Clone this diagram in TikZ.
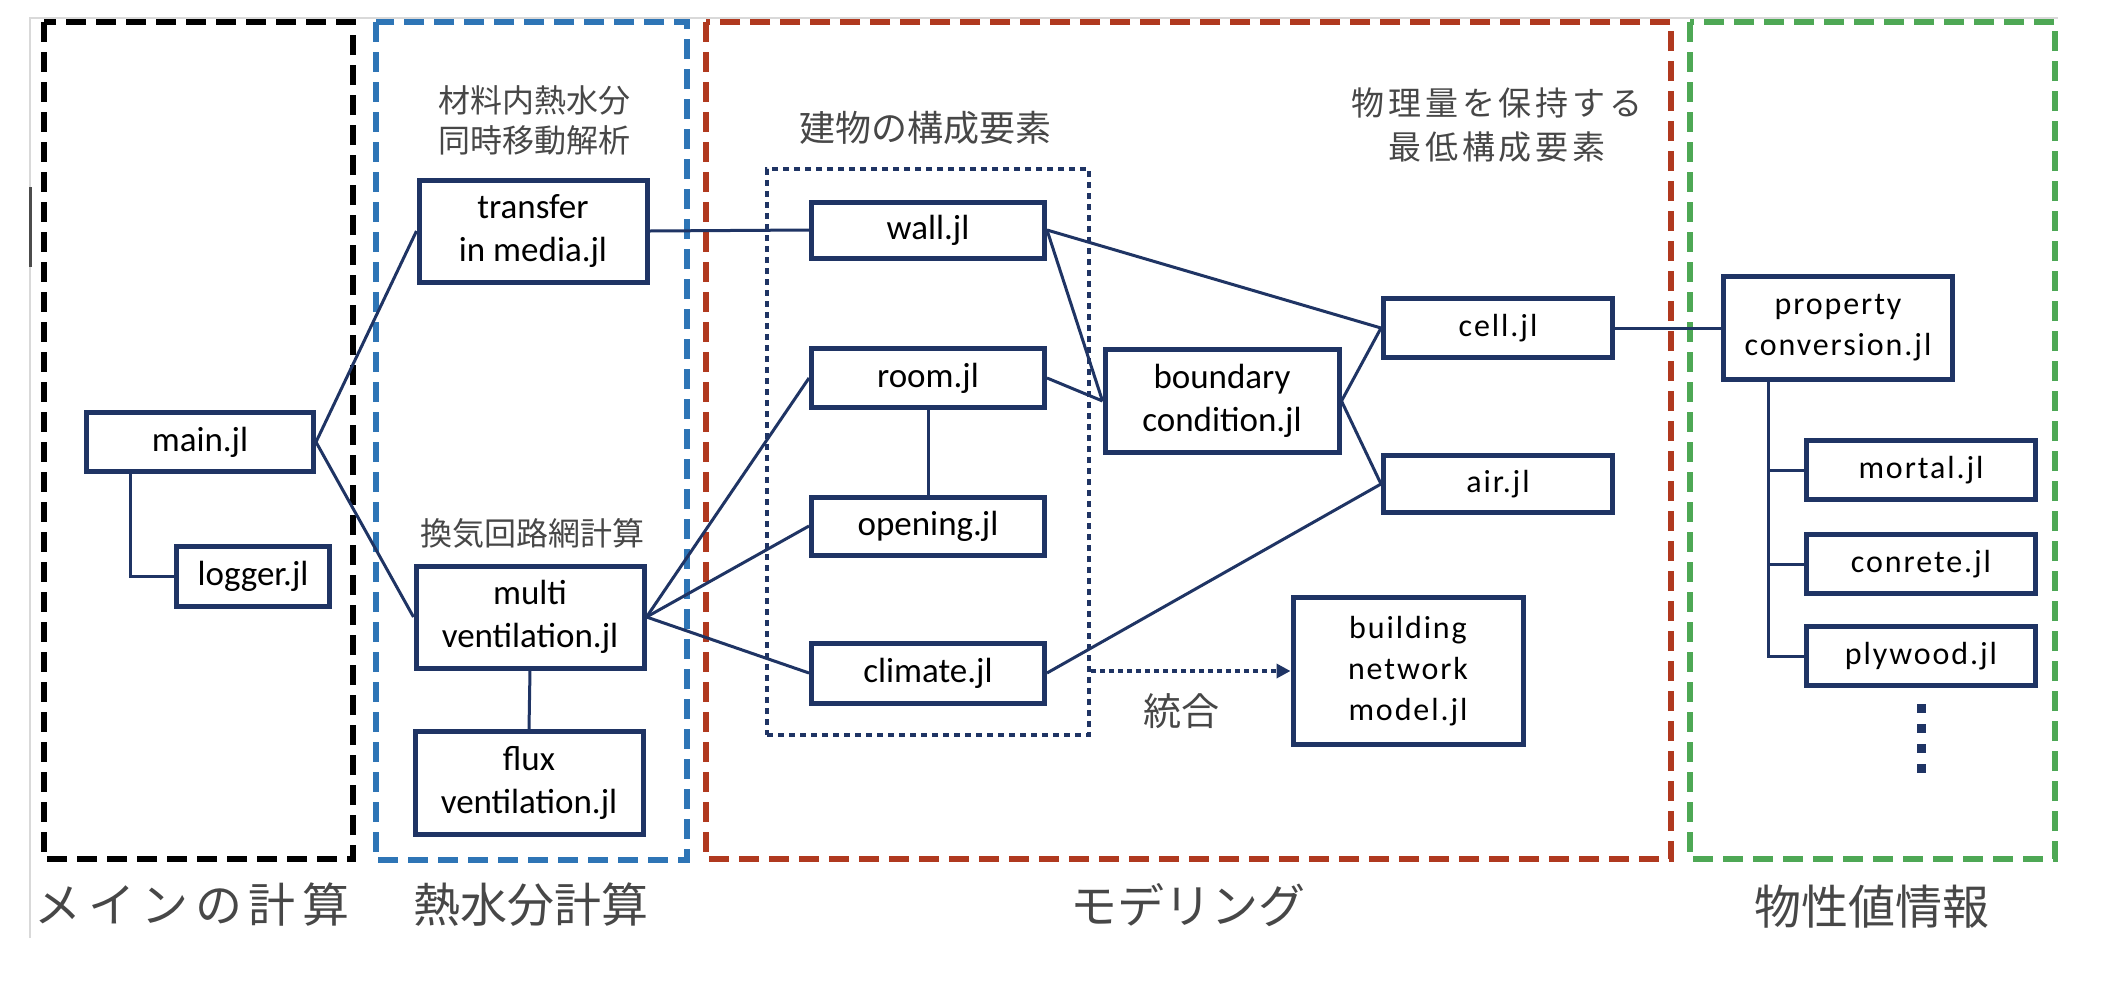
\documentclass[tikz,border=0pt]{standalone}
\usepackage{fontspec}
\setmainfont{Carlito}
\newfontfamily\jpfont{Noto Sans CJK JP}
\newfontfamily\wjpfont{Noto Sans CJK JP}[LetterSpace=12]
\newfontfamily\mjpfont{Noto Sans CJK JP}[LetterSpace=14]
\newfontfamily\boxfont{Carlito}
\newfontfamily\wboxfont{Carlito}[LetterSpace=6]
\usetikzlibrary{arrows.meta}
\definecolor{navy}{HTML}{1F3464}
\definecolor{gblue}{HTML}{2E75B6}
\definecolor{gred}{HTML}{B0391F}
\definecolor{ggreen}{HTML}{4EA855}
\definecolor{jtext}{HTML}{474747}
\begin{document}
\begin{tikzpicture}[x=1pt,y=-1pt,
  box/.style={draw=navy,line width=5pt,fill=white,inner sep=0pt,align=center,text=black,
    font=\boxfont\fontsize{35}{43}\selectfont},
  wbox/.style={box,font=\wboxfont\fontsize{32}{41}\selectfont},
  conn/.style={draw=navy,line width=3pt},
  grp/.style={line width=6.5pt,dash pattern=on 20pt off 10pt},
  jlabel/.style={text=jtext,align=center,inner sep=0pt,font=\jpfont\fontsize{32}{40}\selectfont},
  wjlabel/.style={jlabel,font=\wjpfont\fontsize{33}{44}\selectfont},
  blabel/.style={text=jtext,inner sep=0pt,font=\jpfont\fontsize{47}{50}\selectfont},
]
\fill[white] (0,0) rectangle (2106,994);
\useasboundingbox (0,0) rectangle (2106,994);

% faint frame of the screenshot
\draw[gray!30,line width=2pt] (30,938) -- (30,18) -- (2058,18);
\draw[black!70,line width=3pt] (30,187) -- (30,267);

% group frames
\draw[grp,draw=black] (44,22) rectangle (353,859);
\draw[grp,draw=gblue] (376,22) rectangle (687,860);
\draw[grp,draw=gred] (706,22) rectangle (1671,859);
\draw[grp,draw=ggreen] (1690,22) rectangle (2055,859);

% dotted group of building components
\node[draw=navy,line width=4.5pt,dash pattern=on 6pt off 5pt,minimum width=322pt,minimum height=566pt,inner sep=0pt] (bgroup) at (928,452) {};

% nodes
\node[box,minimum width=227pt,minimum height=59pt] (main) at (200,442) {main.jl};
\node[box,minimum width=153pt,minimum height=60pt] (logger) at (253,576) {logger.jl};
\node[box,minimum width=228pt,minimum height=102pt] (transfer) at (533,231) {transfer\\in media.jl};
\node[box,minimum width=228pt,minimum height=102pt] (multi) at (530,617) {multi\\ventilation.jl};
\node[box,minimum width=228pt,minimum height=103pt] (flux) at (529,783) {flux\\ventilation.jl};
\node[box,minimum width=233pt,minimum height=56pt] (wall) at (928,230) {wall.jl};
\node[box,minimum width=233pt,minimum height=59pt] (room) at (928,378) {room.jl};
\node[box,minimum width=233pt,minimum height=58pt] (opening) at (928,526) {opening.jl};
\node[box,minimum width=233pt,minimum height=60pt] (climate) at (928,673) {climate.jl};
\node[box,minimum width=234pt,minimum height=103pt] (bc) at (1222,401) {boundary\\condition.jl};
\node[wbox,minimum width=229pt,minimum height=59pt] (cell) at (1498,328) {cell.jl};
\node[wbox,minimum width=229pt,minimum height=57pt] (air) at (1498,484) {air.jl};
\node[wbox,minimum width=230pt,minimum height=147pt] (bnm) at (1408,671) {building\\network\\model.jl};
\node[wbox,minimum width=229pt,minimum height=103pt] (prop) at (1838,328) {property\\conversion.jl};
\node[wbox,minimum width=229pt,minimum height=59pt] (mortal) at (1921,470) {mortal.jl};
\node[wbox,minimum width=229pt,minimum height=59pt] (conrete) at (1921,564) {conrete.jl};
\node[wbox,minimum width=229pt,minimum height=59pt] (plywood) at (1921,656) {plywood.jl};

% labels
\node[jlabel] (lbl1) at (534,120) {材料内熱水分\\同時移動解析};
\node[jlabel] (lbl2) at (532,533) {換気回路網計算};
\node[jlabel,font=\jpfont\fontsize{36}{40}\selectfont] (lbl3) at (925,128) {建物の構成要素};
\node[wjlabel] (lbl4) at (1497,125) {物理量を保持する\\最低構成要素};
\node[jlabel,font=\jpfont\fontsize{38}{40}\selectfont] (lbl5) at (1181,711) {統合};
\node[blabel,font=\mjpfont\fontsize{47}{50}\selectfont] (b1) at (192,905) {メインの計算};
\node[blabel] (b2) at (531,905) {熱水分計算};
\node[blabel] (b3) at (1188,905) {モデリング};
\node[blabel] (b4) at (1872,907) {物性値情報};

% connectors
\coordinate (mtrunk) at ([xshift=46pt]main.south west);
\coordinate (ptrunk) at ([xshift=47pt]prop.south west);
\draw[conn] (main.east) -- (transfer.west);
\draw[conn] (main.east) -- (multi.west);
\draw[conn] (mtrunk) |- (logger.west);
\draw[conn] (transfer.east) -- (wall.west);
\draw[conn] (multi.east) -- (room.west);
\draw[conn] (multi.east) -- (opening.west);
\draw[conn] (multi.east) -- (climate.west);
\draw[conn] (multi.south) -- (flux.north);
\draw[conn] (room.south) -- (opening.north);
\draw[conn] (wall.east) -- (cell.west);
\draw[conn] (wall.east) -- (bc.west);
\draw[conn] (room.east) -- (bc.west);
\draw[conn] (bc.east) -- (cell.west);
\draw[conn] (bc.east) -- (air.west);
\draw[conn] (climate.east) -- (air.west);
\draw[conn] (cell.east) -- (prop.west);
\draw[conn] (ptrunk) |- (plywood.west);
\draw[conn] (ptrunk |- mortal.west) -- (mortal.west);
\draw[conn] (ptrunk |- conrete.west) -- (conrete.west);

% integration arrow
\coordinate (arrstart) at (bgroup.east |- bnm.west);
\draw[navy,line width=4pt,dash pattern=on 5pt off 4pt,-{Triangle[length=14pt,width=14pt]}] (arrstart) -- (bnm.west);

% continuation dots
\coordinate (dstart) at ([yshift=-16pt]plywood.south);
\coordinate (dend) at ([yshift=-96pt]plywood.south);
\draw[navy,line width=9pt,dash pattern=on 9pt off 11pt] (dstart) -- (dend);
\end{tikzpicture}
\end{document}
